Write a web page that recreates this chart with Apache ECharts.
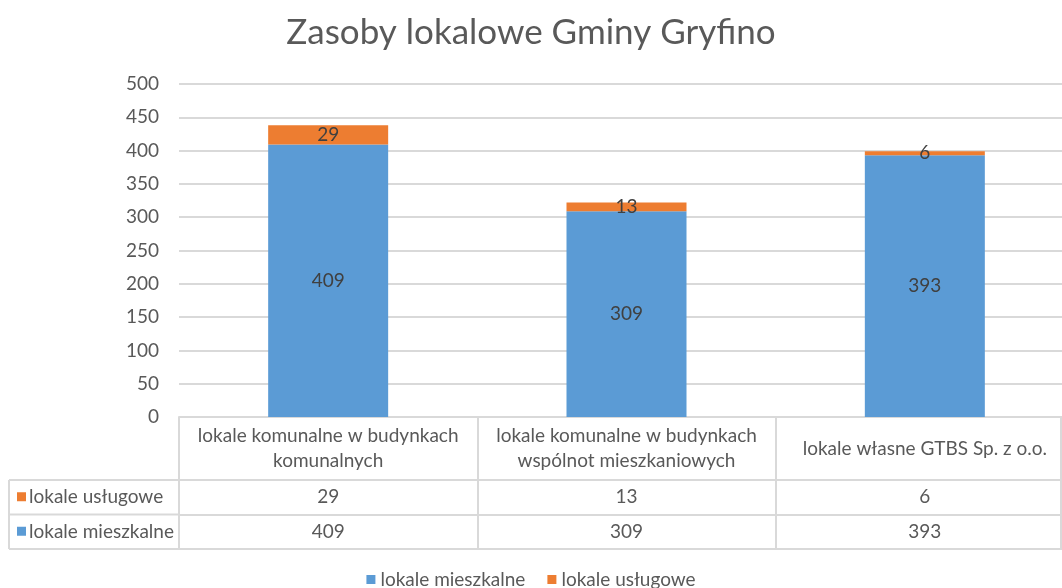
<!DOCTYPE html>
<html>
<head>
<meta charset="utf-8">
<script src="https://cdn.jsdelivr.net/npm/echarts@6/dist/echarts.min.js"></script>
<style>
  html, body { margin: 0; padding: 0; background: #fff; }
  #chart { width: 1062px; height: 588px; }
</style>
</head>
<body>
<div id="chart"></div>
<script>
const categories = [
  'lokale komunalne w budynkach\nkomunalnych',
  'lokale komunalne w budynkach\nwspólnot mieszkaniowych',
  'lokale własne GTBS Sp. z o.o.',
];
const mieszkalne = [409, 309, 393];
const uslugowe = [29, 13, 6];
const yTicks = [0, 500, 50]; // min, max, interval

const FONT = 'Lato, "Open Sans", sans-serif';
const FS = 19;
const TEXT = '#595959';
const LINE = '#d9d9d9';
const BLUE = '#5b9bd5';
const ORANGE = '#ed7d31';

// table layout (px)
const W = 1062;
const H = 588;
const GRID_LEFT = 179;
const GRID_WIDTH = 895; // plot runs a little past the right edge
const GRID_TOP = 84;
const GRID_BOTTOM = 171;
const TABLE_LEFT = 9;
const HEADER_H = 63;
const ROW_H = 34.5;
const axisY = H - GRID_BOTTOM;
const row1 = axisY + HEADER_H;
const row2 = row1 + ROW_H;
const row3 = row2 + ROW_H;

const chart = echarts.init(document.getElementById('chart'));

function hLine(y) {
  return {
    type: 'line',
    shape: { x1: TABLE_LEFT, y1: y, x2: GRID_LEFT, y2: y },
    style: { stroke: LINE, lineWidth: 2 },
  };
}

function rowLabel(y, color, text) {
  return {
    type: 'group',
    children: [
      { type: 'rect', shape: { x: 17, y: y - 5, width: 9, height: 9 }, style: { fill: color } },
      {
        type: 'text',
        style: { x: 29, y: y, text: text, fill: TEXT, font: FS + 'px ' + FONT, verticalAlign: 'middle' },
      },
    ],
  };
}

const valueAxis = (offset, data) => ({
  type: 'category',
  position: 'bottom',
  offset: offset,
  data: categories,
  axisLine: { lineStyle: { color: LINE, width: 2 } },
  axisTick: { show: false },
  axisLabel: {
    show: !!data,
    interval: 0,
    margin: ROW_H / 2,
    verticalAlign: 'middle',
    color: TEXT,
    fontSize: FS,
    fontFamily: FONT,
    formatter: (v, i) => (data ? String(data[i]) : ''),
  },
});

chart.setOption({
  textStyle: { fontFamily: FONT },
  title: {
    text: 'Zasoby lokalowe Gminy Gryfino',
    left: 'center',
    top: 10,
    textStyle: { color: TEXT, fontSize: 35, fontWeight: 'normal', fontFamily: FONT },
  },
  legend: {
    data: ['lokale mieszkalne', 'lokale usługowe'],
    bottom: -6,
    left: 'center',
    icon: 'rect',
    itemWidth: 9,
    itemHeight: 9,
    itemGap: 22,
    textStyle: { color: TEXT, fontSize: FS, fontFamily: FONT },
  },
  grid: {
    left: GRID_LEFT,
    width: GRID_WIDTH,
    top: GRID_TOP,
    bottom: GRID_BOTTOM,
    outerBoundsMode: 'none',
  },
  xAxis: [
    {
      type: 'category',
      data: categories,
      axisLine: { lineStyle: { color: LINE, width: 2 } },
      axisTick: { show: true, length: HEADER_H + 2 * ROW_H, lineStyle: { color: LINE, width: 2 } },
      axisLabel: {
        interval: 0,
        margin: HEADER_H / 2,
        verticalAlign: 'middle',
        color: TEXT,
        fontSize: FS,
        lineHeight: 25,
        fontFamily: FONT,
      },
    },
    valueAxis(HEADER_H, uslugowe),
    valueAxis(HEADER_H + ROW_H, mieszkalne),
    valueAxis(HEADER_H + 2 * ROW_H, null),
  ],
  yAxis: {
    type: 'value',
    min: yTicks[0],
    max: yTicks[1],
    interval: yTicks[2],
    axisLine: { show: false },
    axisTick: { show: false },
    splitLine: { lineStyle: { color: LINE, width: 2 } },
    axisLabel: { margin: 20, color: TEXT, fontSize: FS, fontFamily: FONT },
  },
  series: [
    {
      name: 'lokale mieszkalne',
      type: 'bar',
      stack: 'lokale',
      barWidth: 120,
      data: mieszkalne,
      itemStyle: { color: BLUE },
      label: { show: true, position: 'inside', color: '#404040', fontSize: FS, fontFamily: FONT },
    },
    {
      name: 'lokale usługowe',
      type: 'bar',
      stack: 'lokale',
      barWidth: 120,
      data: uslugowe,
      itemStyle: { color: ORANGE },
      label: { show: true, position: 'inside', color: '#404040', fontSize: FS, fontFamily: FONT },
    },
  ],
  graphic: [
    hLine(row1),
    hLine(row2),
    hLine(row3),
    {
      type: 'line',
      shape: { x1: TABLE_LEFT, y1: row1, x2: TABLE_LEFT, y2: row3 },
      style: { stroke: LINE, lineWidth: 2 },
    },
    {
      type: 'line',
      shape: { x1: W - 1, y1: axisY, x2: W - 1, y2: row3 },
      style: { stroke: LINE, lineWidth: 2 },
    },
    rowLabel((row1 + row2) / 2, ORANGE, 'lokale usługowe'),
    rowLabel((row2 + row3) / 2, BLUE, 'lokale mieszkalne'),
  ],
});
</script>
</body>
</html>
